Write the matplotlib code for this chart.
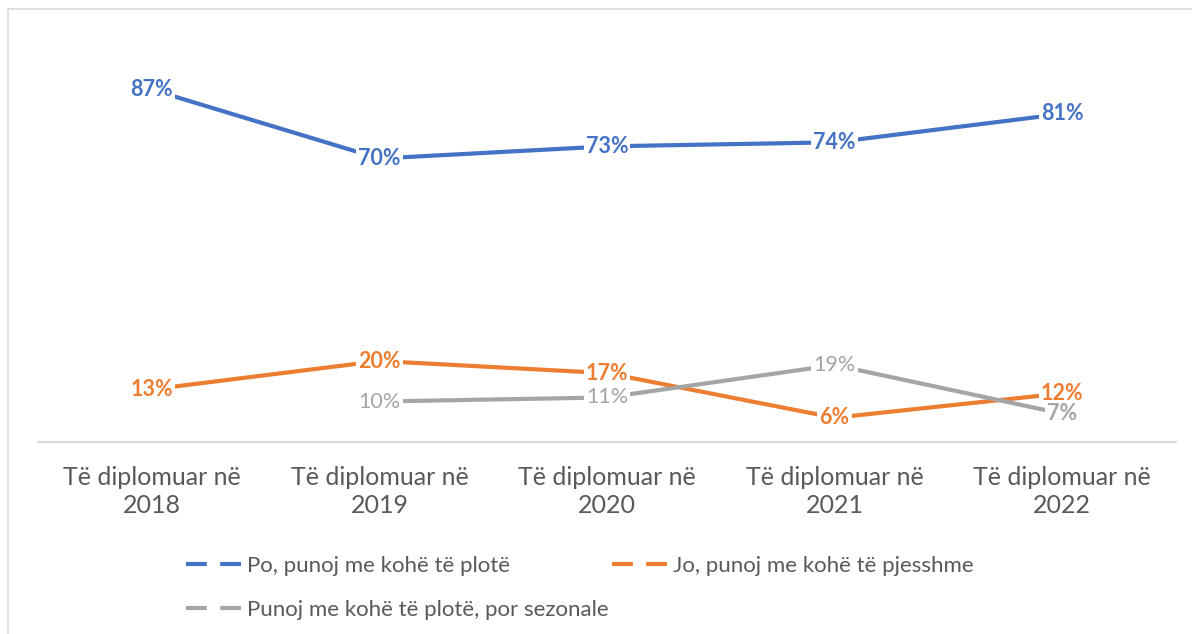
import numpy as np
import matplotlib.pyplot as plt
from matplotlib.lines import Line2D
from matplotlib.patches import Rectangle

plt.rcParams['font.family'] = ['Lato', 'DejaVu Sans']

categories = ['Të diplomuar në\n2018', 'Të diplomuar në\n2019', 'Të diplomuar në\n2020',
              'Të diplomuar në\n2021', 'Të diplomuar në\n2022']
full_time = [0.87, 0.70, 0.73, 0.74, 0.81]
part_time = [0.13, 0.20, 0.17, 0.06, 0.12]
seasonal = [np.nan, 0.10, 0.11, 0.19, 0.07]
# the grey labels are not all bold in the original
seasonal_bold = [False, False, False, False, True]

names = ['Po, punoj me kohë të plotë', 'Jo, punoj me kohë të pjesshme',
         'Punoj me kohë të plotë, por sezonale']
colors = ['#4472C4', '#ED7D31', '#A5A5A5']
txt = '#595959'

W, H = 1192, 634
fig = plt.figure(figsize=(W / 100, H / 100), dpi=100)
ax = fig.add_axes([38 / W, 192 / H, 1138 / W, 405 / H])

# light frame of the chart area, cut by the page edge
fig.patches.append(Rectangle((8 / W, -0.1), 1.2, 1.1 - 9.5 / H, transform=fig.transFigure,
                             fill=False, edgecolor='#d9d9d9', lw=1.2))

x = np.arange(len(categories))
bolds = [[True] * 5, [True] * 5, seasonal_bold]
for vals, c, bb in zip([full_time, part_time, seasonal], colors, bolds):
    ax.plot(x, vals, color=c, lw=3, solid_capstyle='butt', zorder=2)
    for xi, v, b in zip(x, vals, bb):
        if np.isnan(v):
            continue
        ax.text(xi, v, f'{v * 100:.0f}%', ha='center', va='center', color=c,
                fontsize=15.5, fontweight='bold' if b else 'normal', zorder=3,
                bbox=dict(facecolor='white', edgecolor='none', pad=1.5))

ax.set_xlim(-0.5, len(categories) - 0.5)
ax.set_ylim(0, 1)
ax.set_xticks(x)
ax.set_xticklabels(categories, fontsize=18, color=txt, linespacing=1.3)
ax.tick_params(axis='x', length=0, pad=17)
ax.set_yticks([])
for s in ['top', 'left', 'right']:
    ax.spines[s].set_visible(False)
ax.spines['bottom'].set_color('#d9d9d9')
ax.spines['bottom'].set_linewidth(1.5)

hs = [Line2D([], [], color=c, lw=3, linestyle=(0, (5, 3.2))) for c in colors]
kw = dict(loc='upper left', frameon=False, borderpad=0, borderaxespad=0, fontsize=16,
          handlelength=2.5, handletextpad=0.25, labelspacing=1.08, labelcolor=txt)
fig.legend([hs[0], hs[2]], [names[0], names[2]], bbox_to_anchor=(186 / W, 1 - 556 / H), **kw)
fig.legend([hs[1]], [names[1]], bbox_to_anchor=(612 / W, 1 - 556 / H), **kw)

fig.savefig('out.png', dpi=100)
